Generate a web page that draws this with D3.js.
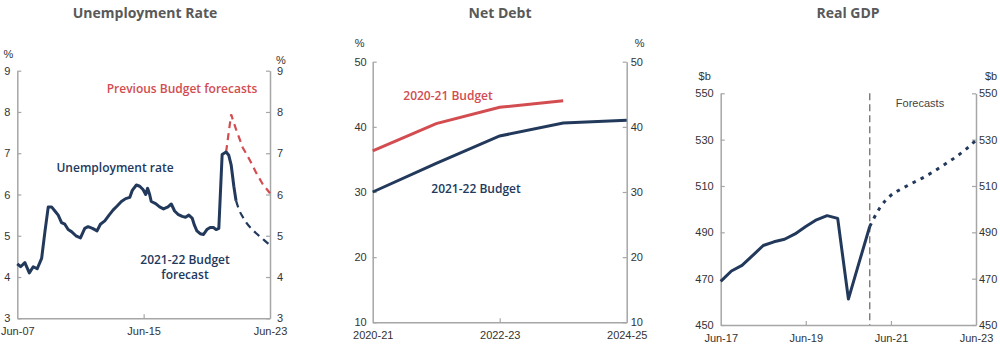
<!DOCTYPE html>
<html>
<head>
<meta charset="utf-8">
<script src="https://cdn.jsdelivr.net/npm/d3@7"></script>
<style>
  html, body { margin: 0; padding: 0; background: #fff; }
  svg { display: block; }
  .title { font-family: "Open Sans", sans-serif; font-weight: 700; font-size: 14px; fill: #595959; }
  .tick text, .unit { font-family: "Liberation Sans", Arial, sans-serif; font-size: 11px; fill: #333; }
  .series-label { font-family: "Open Sans", sans-serif; font-weight: 600; font-size: 12px; }
  .note { font-family: "Liberation Sans", Arial, sans-serif; font-size: 11px; fill: #444; }
</style>
</head>
<body>
<svg id="chart" width="1000" height="350"></svg>
<script>
// ---------- Unemployment rate (%), decimal years ----------
const unempYears = [2007.50, 2007.71, 2007.98, 2008.26, 2008.51, 2008.76, 2009.04, 2009.25, 2009.46, 2009.67,
  2009.88, 2010.09, 2010.30, 2010.51, 2010.72, 2010.93, 2011.21, 2011.50, 2011.77, 2011.98,
  2012.26, 2012.55, 2012.76, 2013.04, 2013.31, 2013.56, 2013.82, 2014.09, 2014.36, 2014.62,
  2014.78, 2015.04, 2015.25, 2015.46, 2015.63, 2015.75, 2015.88, 2015.98, 2016.26, 2016.51,
  2016.76, 2017.04, 2017.25, 2017.46, 2017.67, 2017.94, 2018.15, 2018.36, 2018.57, 2018.72,
  2018.87, 2019.08, 2019.29, 2019.50, 2019.71, 2019.92, 2020.09, 2020.26, 2020.47, 2020.72,
  2020.89, 2021.04, 2021.21, 2021.35];
const unempRate = [4.32, 4.25, 4.35, 4.10, 4.25, 4.20, 4.45, 5.10, 5.70, 5.70,
  5.60, 5.50, 5.32, 5.28, 5.15, 5.10, 5.00, 4.95, 5.18, 5.22,
  5.18, 5.12, 5.28, 5.36, 5.50, 5.62, 5.72, 5.83, 5.90, 5.93,
  6.10, 6.23, 6.20, 6.12, 6.00, 6.15, 6.00, 5.83, 5.78, 5.70,
  5.65, 5.70, 5.77, 5.60, 5.52, 5.47, 5.45, 5.50, 5.43, 5.25,
  5.12, 5.05, 5.03, 5.15, 5.20, 5.20, 5.15, 5.18, 6.97, 7.03,
  6.95, 6.72, 6.20, 5.85];
const unempFcYears = [2021.35, 2021.55, 2021.77, 2022.00, 2022.30, 2022.62, 2022.93, 2023.20, 2023.50];
const unempFcRate  = [5.85, 5.62, 5.46, 5.32, 5.18, 5.06, 4.96, 4.87, 4.77];
const unempPrevYears = [2020.72, 2021.04, 2021.35, 2021.77, 2022.20, 2022.62, 2023.04, 2023.50];
const unempPrevRate  = [7.03, 7.94, 7.58, 7.14, 6.85, 6.53, 6.25, 6.03];
const unempTickYears  = [2007.5, 2015.5, 2023.5];
const unempTickLabels = ["Jun-07", "Jun-15", "Jun-23"];
const unempYTicks = [3, 4, 5, 6, 7, 8, 9];

// ---------- Net debt (% of GDP) ----------
const debtYears = ["2020-21", "2021-22", "2022-23", "2023-24", "2024-25"];
const debt2122  = [30.0, 34.4, 38.6, 40.6, 41.0];
const debt2021  = [36.3, 40.5, 43.0, 44.0];
const debtTickLabels = ["2020-21", "2022-23", "2024-25"];
const debtYTicks = [10, 20, 30, 40, 50];

// ---------- Real GDP ($b), quarterly ----------
const gdpQuarters = ["Jun-17", "Sep-17", "Dec-17", "Mar-18", "Jun-18", "Sep-18", "Dec-18", "Mar-19",
  "Jun-19", "Sep-19", "Dec-19", "Mar-20", "Jun-20", "Sep-20", "Dec-20"];
const gdpActual = [468.8, 473.3, 475.7, 479.9, 484.3, 485.9, 487.0, 489.3,
  492.5, 495.4, 497.2, 496.0, 461.2, 477.0, 492.5];
const gdpFcQuarters = ["Dec-20", "Mar-21", "Jun-21", "Sep-21", "Dec-21", "Mar-22", "Jun-22", "Sep-22",
  "Dec-22", "Mar-23", "Jun-23"];
const gdpForecast = [492.5, 500.8, 506.0, 508.8, 511.2, 513.5, 516.2, 519.2, 522.2, 525.6, 529.8];
const gdpTickLabels = ["Jun-17", "Jun-19", "Jun-21", "Jun-23"];
const gdpYTicks = [450, 470, 490, 510, 530, 550];
const gdpForecastStart = "Dec-20";

// ---------- Styles ----------
const NAVY = "#22395c";
const RED = "#d24c50";
const AXIS = "#a6a6a6";

const svg = d3.select("#chart");
const parseQ = d3.timeParse("%b-%y");
const intFmt = d3.format("d");

// Draws the frame (left/right/bottom axes) of one panel
function frame(g, x, y, yTicks, xTicks, xFormat, unit, opts) {
  const [x0, x1] = x.range();
  const [yb, yt] = y.range();
  const axL = d3.axisLeft(y).tickValues(yTicks).tickFormat(intFmt).tickSizeInner(-4).tickSizeOuter(0).tickPadding(opts.padL);
  const axR = d3.axisRight(y).tickValues(yTicks).tickFormat(intFmt).tickSizeInner(-4).tickSizeOuter(0).tickPadding(opts.padR);
  const axB = d3.axisBottom(x).tickValues(xTicks).tickFormat(xFormat).tickSizeInner(-4).tickSizeOuter(0).tickPadding(9);
  const style = sel => {
    sel.select(".domain").attr("stroke", AXIS).attr("stroke-width", 1.5);
    sel.selectAll(".tick line").attr("stroke", AXIS).attr("stroke-width", 1.2);
    sel.selectAll(".tick text").attr("fill", "#333").style("font-family", '"Liberation Sans", Arial, sans-serif').style("font-size", "11px");
  };
  g.append("g").attr("transform", `translate(${x0},0)`).call(axL).call(style);
  g.append("g").attr("transform", `translate(${x1},0)`).call(axR).call(style);
  const b = g.append("g").attr("transform", `translate(0,${yb})`).call(axB).call(style);
  // end ticks on the bottom axis sit on the vertical axes, so drop them
  b.selectAll(".tick line").filter((d, i) => i === 0 || i === xTicks.length - 1).remove();
  g.append("text").attr("class", "unit").attr("x", x0 - opts.unitDxL).attr("y", yt - opts.unitDyL).attr("text-anchor", "middle").text(unit);
  g.append("text").attr("class", "unit").attr("x", x1 + opts.unitDxR).attr("y", yt - opts.unitDyR).attr("text-anchor", "middle").text(unit);
}

// ===== Panel 1: Unemployment Rate =====
{
  const g = svg.append("g");
  const x = d3.scaleLinear().domain([2007.5, 2023.5]).range([17.3, 270]);
  const y = d3.scaleLinear().domain([3, 9]).range([318.3, 70.7]);
  const fmt = d => unempTickLabels[unempTickYears.indexOf(d)];
  frame(g, x, y, unempYTicks, unempTickYears, fmt, "%",
    { padL: 7, padR: 7, unitDxL: 9, unitDyL: 13, unitDxR: 11, unitDyR: 7 });

  g.append("text").attr("class", "title").attr("x", 145).attr("y", 18).attr("text-anchor", "middle").text("Unemployment Rate");

  const line = d3.line().x(d => x(d[0])).y(d => y(d[1]));
  g.append("path").datum(d3.zip(unempPrevYears, unempPrevRate))
    .attr("d", line).attr("fill", "none").attr("stroke", RED).attr("stroke-width", 2.2).attr("stroke-dasharray", "7,5");
  g.append("path").datum(d3.zip(unempFcYears, unempFcRate))
    .attr("d", line.curve(d3.curveMonotoneX)).attr("fill", "none").attr("stroke", NAVY).attr("stroke-width", 2.2).attr("stroke-dasharray", "7,5");
  g.append("path").datum(d3.zip(unempYears, unempRate))
    .attr("d", d3.line().x(d => x(d[0])).y(d => y(d[1]))).attr("fill", "none").attr("stroke", NAVY)
    .attr("stroke-width", 3).attr("stroke-linejoin", "round");

  g.append("text").attr("class", "series-label").attr("x", 182).attr("y", 93).attr("text-anchor", "middle").attr("fill", RED).text("Previous Budget forecasts");
  g.append("text").attr("class", "series-label").attr("x", 115).attr("y", 172).attr("text-anchor", "middle").attr("fill", NAVY).text("Unemployment rate");
  g.append("text").attr("class", "series-label").attr("x", 185).attr("y", 264).attr("text-anchor", "middle").attr("fill", NAVY).text("2021-22 Budget");
  g.append("text").attr("class", "series-label").attr("x", 185).attr("y", 279).attr("text-anchor", "middle").attr("fill", NAVY).text("forecast");
}

// ===== Panel 2: Net Debt =====
{
  const g = svg.append("g");
  const x = d3.scalePoint().domain(debtYears).range([372.7, 626.7]);
  const y = d3.scaleLinear().domain([10, 50]).range([322.3, 61.7]);
  frame(g, x, y, debtYTicks, debtTickLabels, d => d, "%",
    { padL: 6, padR: 4, unitDxL: 13, unitDyL: 15, unitDxR: 13, unitDyR: 15 });

  g.append("text").attr("class", "title").attr("x", 500).attr("y", 18).attr("text-anchor", "middle").text("Net Debt");

  const line = d3.line().x(d => x(d[0])).y(d => y(d[1]));
  g.append("path").datum(d3.zip(debtYears, debt2021))
    .attr("d", line).attr("fill", "none").attr("stroke", RED).attr("stroke-width", 3);
  g.append("path").datum(d3.zip(debtYears, debt2122))
    .attr("d", line).attr("fill", "none").attr("stroke", NAVY).attr("stroke-width", 3);

  g.append("text").attr("class", "series-label").attr("x", 448).attr("y", 100).attr("text-anchor", "middle").attr("fill", RED).text("2020-21 Budget");
  g.append("text").attr("class", "series-label").attr("x", 476).attr("y", 193).attr("text-anchor", "middle").attr("fill", NAVY).text("2021-22 Budget");
}

// ===== Panel 3: Real GDP =====
{
  const g = svg.append("g");
  const x = d3.scaleTime().domain([parseQ("Jun-17"), parseQ("Jun-23")]).range([720.7, 976]);
  const y = d3.scaleLinear().domain([450, 550]).range([325, 93.3]);
  const ticks = gdpTickLabels.map(parseQ);
  frame(g, x, y, gdpYTicks, ticks, d3.timeFormat("%b-%y"), "$b",
    { padL: 7, padR: 3, unitDxL: 16, unitDyL: 13, unitDxR: 15, unitDyR: 13 });

  g.append("text").attr("class", "title").attr("x", 848).attr("y", 18).attr("text-anchor", "middle").text("Real GDP");

  const xf = x(parseQ(gdpForecastStart));
  g.append("line").attr("x1", xf).attr("x2", xf).attr("y1", y(550)).attr("y2", y(450))
    .attr("stroke", "#7a7a7a").attr("stroke-width", 1.4).attr("stroke-dasharray", "7,4");
  g.append("text").attr("class", "note").attr("x", 920).attr("y", 107).attr("text-anchor", "middle").text("Forecasts");

  const line = d3.line().x(d => x(parseQ(d[0]))).y(d => y(d[1]));
  g.append("path").datum(d3.zip(gdpFcQuarters, gdpForecast))
    .attr("d", line.curve(d3.curveMonotoneX)).attr("fill", "none").attr("stroke", NAVY).attr("stroke-width", 3).attr("stroke-dasharray", "3.5,5.5");
  g.append("path").datum(d3.zip(gdpQuarters, gdpActual))
    .attr("d", d3.line().x(d => x(parseQ(d[0]))).y(d => y(d[1]))).attr("fill", "none").attr("stroke", NAVY)
    .attr("stroke-width", 3).attr("stroke-linejoin", "round");
}
</script>
</body>
</html>
